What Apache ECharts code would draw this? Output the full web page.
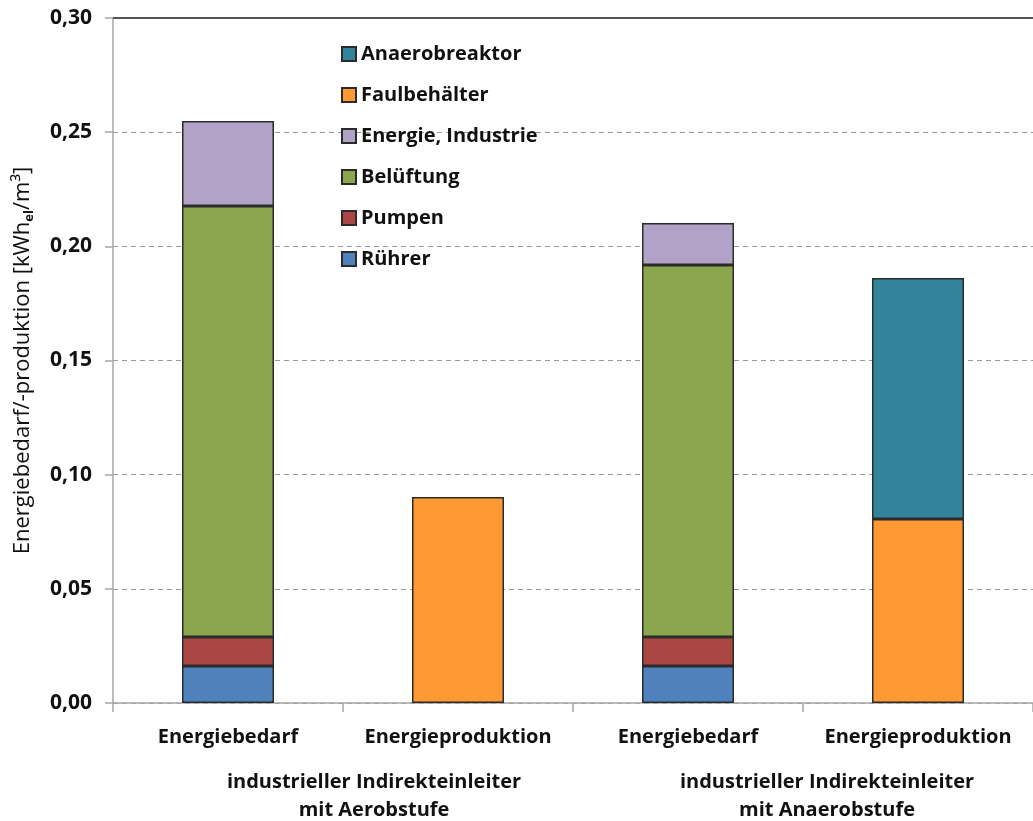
<!DOCTYPE html>
<html>
<head>
<meta charset="utf-8">
<script src="https://cdn.jsdelivr.net/npm/echarts@6/dist/echarts.min.js"></script>
<style>
  html, body { margin: 0; padding: 0; background: #fff; }
  #chart { width: 1033px; height: 821px; }
</style>
</head>
<body>
<div id="chart"></div>
<script>
// Categories along the x axis and the two scenario groups beneath them
const categories = ['Energiebedarf', 'Energieproduktion', 'Energiebedarf', 'Energieproduktion'];
const groupLabels = ['industrieller Indirekteinleiter\nmit Aerobstufe', 'industrieller Indirekteinleiter\nmit Anaerobstufe'];

// Stacked components in kWh_el/m³ (bottom to top)
const ruehrer        = [0.0162, '-', 0.0162, '-'];
const pumpen         = [0.0127, '-', 0.0127, '-'];
const belueftung     = [0.1888, '-', 0.1629, '-'];
const energieInd     = [0.0372, '-', 0.0184, '-'];
const faulbehaelter  = ['-', 0.0902, '-', 0.0806];
const anaerobreaktor = ['-', '-', '-', 0.1055];

const yTicks = { min: 0, max: 0.30, interval: 0.05 };

const FONT = '"Open Sans", Lato, sans-serif';

const seriesDefs = [
  { name: 'Rührer', data: ruehrer, color: '#4F81BD' },
  { name: 'Pumpen', data: pumpen, color: '#AA4643' },
  { name: 'Belüftung', data: belueftung, color: '#8BA64F' },
  { name: 'Energie, Industrie', data: energieInd, color: '#B3A2C8' },
  { name: 'Faulbehälter', data: faulbehaelter, color: '#FF9933' },
  { name: 'Anaerobreaktor', data: anaerobreaktor, color: '#31849B' }
];

const series = seriesDefs.map((s, i) => ({
  name: s.name,
  type: 'bar',
  stack: 'total',
  barWidth: '40%',
  data: s.data,
  itemStyle: { color: s.color, borderColor: '#2b2b2b', borderWidth: 1.5 },
  emphasis: { disabled: true },
  markLine: i === 0 ? {
    silent: true,
    symbol: 'none',
    label: { show: false },
    lineStyle: { color: '#555', type: 'solid', width: 2 },
    data: [{ yAxis: yTicks.max }]
  } : undefined
}));

const chart = echarts.init(document.getElementById('chart'), null, { renderer: 'canvas' });
chart.setOption({
  animation: false,
  backgroundColor: '#fff',
  textStyle: { fontFamily: FONT },
  grid: { left: 113, right: 0, top: 18, bottom: 118, containLabel: false },
  legend: {
    orient: 'vertical',
    left: 336,
    top: 39,
    itemWidth: 14,
    itemHeight: 14,
    itemGap: 21,
    icon: 'rect',
    data: seriesDefs.map(s => s.name).reverse(),
    textStyle: { fontFamily: FONT, fontSize: 20, fontWeight: 'bold', color: '#111', lineHeight: 20 },
    selectedMode: false
  },
  xAxis: {
    type: 'category',
    data: categories,
    axisLine: { lineStyle: { color: '#a6a6a6', width: 1.5 } },
    axisTick: { show: true, interval: 0, length: 9, lineStyle: { color: '#a6a6a6', width: 1.5 } },
    axisLabel: { interval: 0, fontFamily: FONT, fontSize: 20, fontWeight: 'bold', color: '#111', margin: 24 }
  },
  yAxis: {
    type: 'value',
    min: yTicks.min,
    max: yTicks.max,
    interval: yTicks.interval,
    name: '{n|Energiebedarf/-produktion [kWh}{s|el}{n|/m³]}',
    nameLocation: 'middle',
    nameGap: 77,
    nameTextStyle: {
      rich: {
        n: { fontFamily: FONT, fontSize: 22, color: '#111', lineHeight: 26 },
        s: { fontFamily: FONT, fontSize: 13, fontWeight: 'bold', color: '#111', lineHeight: 26, verticalAlign: 'bottom', padding: [10, 0, 0, 0] }
      }
    },
    axisLine: { show: true, lineStyle: { color: '#a6a6a6', width: 1.5 } },
    axisTick: { show: true, length: 8, lineStyle: { color: '#a6a6a6', width: 1.5 } },
    axisLabel: {
      fontFamily: FONT, fontSize: 21, fontWeight: 'bold', color: '#111', margin: 21,
      formatter: v => v.toFixed(2).replace('.', ',')
    },
    splitLine: { lineStyle: { color: '#9a9a9a', type: [5, 4], width: 1 } }
  },
  graphic: [
    { type: 'text', x: 374, y: 768, style: { text: groupLabels[0], font: 'bold 20px ' + FONT, fill: '#111', align: 'center', lineHeight: 28 } },
    { type: 'text', x: 827, y: 768, style: { text: groupLabels[1], font: 'bold 20px ' + FONT, fill: '#111', align: 'center', lineHeight: 28 } }
  ],
  series
});
</script>
</body>
</html>
